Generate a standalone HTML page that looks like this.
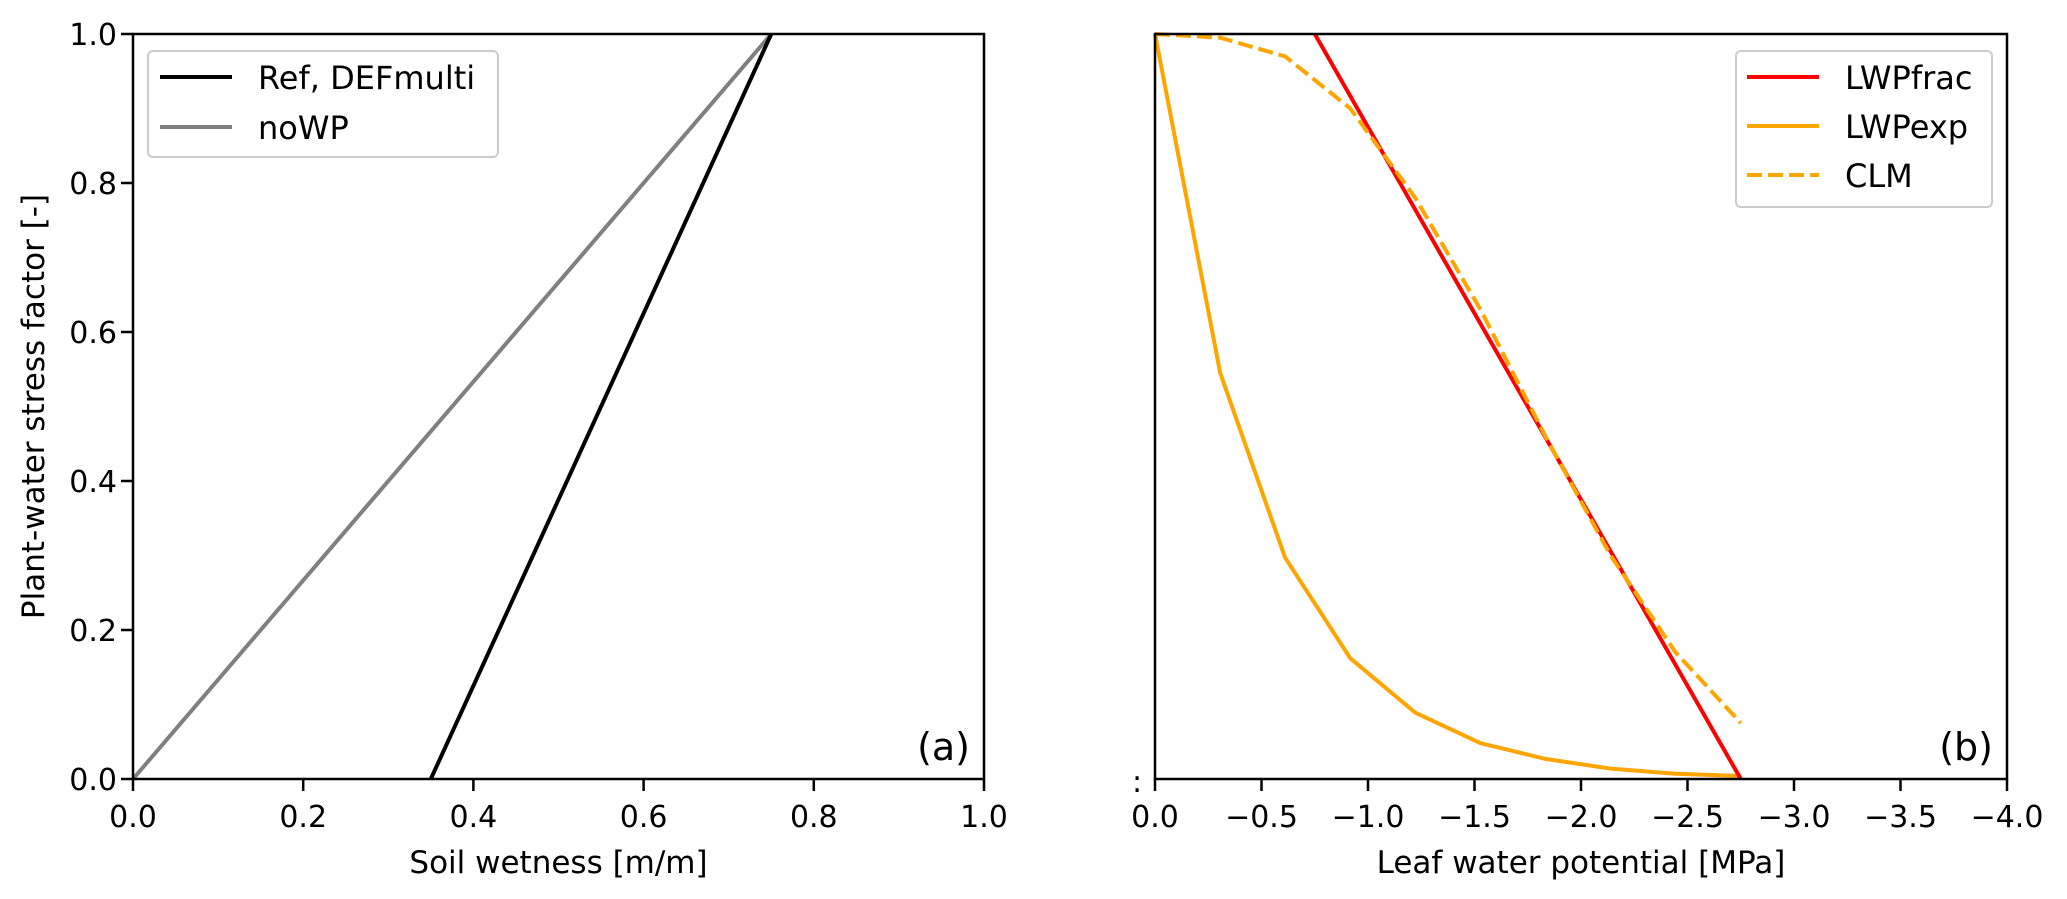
<!DOCTYPE html>
<html><head><meta charset="utf-8"><style>
html,body{margin:0;padding:0;background:#fff;}
svg{display:block;}
text{font-family:"DejaVu Sans","Liberation Sans",sans-serif;fill:#000;}
</style></head><body>
<svg id="chart" width="2067" height="899" xmlns="http://www.w3.org/2000/svg"></svg>
<script>
// Panel (a) data
const soilX = [0, 0.2, 0.4, 0.6, 0.8, 1.0];
const stressTicks = [0, 0.2, 0.4, 0.6, 0.8, 1.0];
const refX = [0.35, 0.75];
const refY = [0, 1];
const noWPX = [0, 0.75];
const noWPY = [0, 1];
// Panel (b) data
const lwpTicks = [0, -0.5, -1.0, -1.5, -2.0, -2.5, -3.0, -3.5, -4.0];
const lwpTickLabels = ["0.0","\u22120.5","\u22121.0","\u22121.5","\u22122.0","\u22122.5","\u22123.0","\u22123.5","\u22124.0"];
const fracX = [-0.75, -2.75];
const fracY = [1, 0];
const lwpPts = [0, -0.306, -0.611, -0.917, -1.222, -1.528, -1.833, -2.139, -2.444, -2.75];
const expY = [1, 0.545, 0.297, 0.162, 0.089, 0.048, 0.027, 0.014, 0.007, 0.004];
const clmY = [1, 0.995, 0.97, 0.90, 0.78, 0.63, 0.46, 0.30, 0.17, 0.075];

const NS="http://www.w3.org/2000/svg";
const svg=document.getElementById('chart');
const T=34,B=779,FS=30,FL=32,FT=31;
const A={l:133,r:984,x0:0,x1:1};
const Bp={l:1155,r:2007,x0:0,x1:-4};
function sx(p,v){return p.l+(v-p.x0)/(p.x1-p.x0)*(p.r-p.l);}
function sy(v){return B-v*(B-T);}
function el(tag,attrs,parent){const e=document.createElementNS(NS,tag);for(const k in attrs)e.setAttribute(k,attrs[k]);(parent||svg).appendChild(e);return e;}
function txt(s,x,y,attrs){const e=el('text',Object.assign({x:x,y:y},attrs||{}));e.textContent=s;return e;}
function poly(p,xs,ys,style,name){
  const pts=xs.map((x,i)=>sx(p,x).toFixed(1)+','+sy(ys[i]).toFixed(1)).join(' ');
  const e=el('polyline',Object.assign({points:pts,fill:'none','stroke-linejoin':'round'},style));
  
  
  return e;
}

// ===== Panel A =====
soilX.forEach(v=>{
  const x=sx(A,v);
  const t=el('line',{x1:x,x2:x,y1:B,y2:B+12,stroke:'#000','stroke-width':2.5});
  
  
  const l=txt(v.toFixed(1),x,827,{'font-size':FS,'text-anchor':'middle'});
  
  
});
stressTicks.forEach(v=>{
  const y=sy(v);
  const t=el('line',{x1:A.l-12,x2:A.l,y1:y,y2:y,stroke:'#000','stroke-width':2.5});
  
  
  const l=txt(v.toFixed(1),117,y+11,{'font-size':FS,'text-anchor':'end'});
  
  
});
poly(A,noWPX,noWPY,{stroke:'#808080','stroke-width':4},'nowp-line');
poly(A,refX,refY,{stroke:'#000','stroke-width':4},'ref-defmulti-line');
const frA=el('rect',{x:A.l,y:T,width:A.r-A.l,height:B-T,fill:'none',stroke:'#000','stroke-width':2.5});

const xa=txt('Soil wetness [m/m]',(A.l+A.r)/2,873,{'font-size':FT,'text-anchor':'middle'});

const ya=txt('Plant-water stress factor [-]',0,0,{'font-size':FT,'text-anchor':'middle',transform:'translate(44,'+((T+B)/2)+') rotate(-90)'});

const pa=txt('(a)',970,760,{'font-size':38,'text-anchor':'end','font-family':'Liberation Sans, sans-serif'});

// Legend A
const lgA=el('g',{});
el('rect',{x:148,y:51,width:350,height:106,rx:5,fill:'#fff',stroke:'#ccc','stroke-width':2},lgA);
[['Ref, DEFmulti','#000',77],['noWP','#808080',127]].forEach(([n,c,y])=>{
  const g=el('g',{},lgA);
  el('line',{x1:160,x2:232,y1:y,y2:y,stroke:c,'stroke-width':4},g);
  const t=el('text',{x:258,y:y+12,'font-size':FL},g);t.textContent=n;
});

// ===== Panel B =====
lwpTicks.forEach((v,i)=>{
  const x=sx(Bp,v);
  const t=el('line',{x1:x,x2:x,y1:B,y2:B+12,stroke:'#000','stroke-width':2.5});
  
  
  const l=txt(lwpTickLabels[i],x,827,{'font-size':FS,'text-anchor':'middle'});
  
  
});
const colon=txt(':',1137,792,{'font-size':FS,'text-anchor':'middle'});

poly(Bp,lwpPts,expY,{stroke:'#FFA500','stroke-width':4},'lwpexp-line');
poly(Bp,fracX,fracY,{stroke:'#FF0000','stroke-width':4},'lwpfrac-line');
poly(Bp,lwpPts,clmY,{stroke:'#FFA500','stroke-width':4,'stroke-dasharray':'15,6'},'clm-line');
const frB=el('rect',{x:Bp.l,y:T,width:Bp.r-Bp.l,height:B-T,fill:'none',stroke:'#000','stroke-width':2.5});

const xb=txt('Leaf water potential [MPa]',(Bp.l+Bp.r)/2,873,{'font-size':FT,'text-anchor':'middle'});

const pb=txt('(b)',1993,760,{'font-size':38,'text-anchor':'end','font-family':'Liberation Sans, sans-serif'});

const lgB=el('g',{});
el('rect',{x:1736,y:51,width:256,height:156,rx:5,fill:'#fff',stroke:'#ccc','stroke-width':2},lgB);
[['LWPfrac','#FF0000',77,null],['LWPexp','#FFA500',126,null],['CLM','#FFA500',175,'15,6']].forEach(([n,c,y,d])=>{
  const g=el('g',{},lgB);
  const a={x1:1747,x2:1819,y1:y,y2:y,stroke:c,'stroke-width':4};if(d)a['stroke-dasharray']=d;
  el('line',a,g);
  const t=el('text',{x:1845,y:y+12,'font-size':FL},g);t.textContent=n;
});
</script>
</body></html>
